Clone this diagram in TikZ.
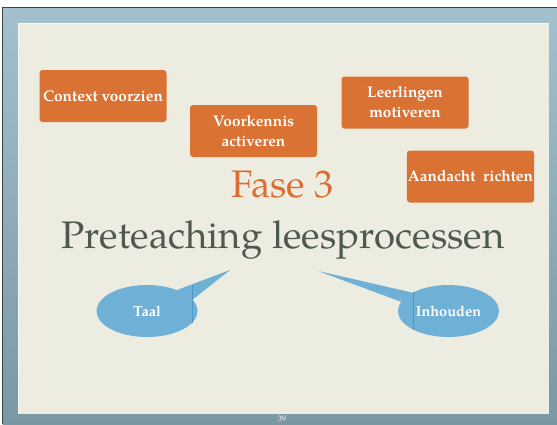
\documentclass[tikz,border=0pt]{standalone}
\usepackage{fontspec}
\setmainfont{TeX Gyre Pagella}
\usetikzlibrary{shapes.geometric,calc}
\definecolor{frameTop}{HTML}{A2C0CD}
\definecolor{frameBot}{HTML}{7A98A4}
\definecolor{cream}{HTML}{EDECE1}
\definecolor{boxor}{HTML}{DA7233}
\definecolor{titleor}{HTML}{DB6F33}
\definecolor{titlegr}{HTML}{4E5A4F}
\definecolor{bubble}{HTML}{6FB0D7}
\definecolor{bubbleline}{HTML}{4C96C8}
\begin{document}
\begin{tikzpicture}[x=1pt,y=-1pt,
  taskbox/.style={fill=boxor, rounded corners=3pt, minimum width=127pt, minimum height=52pt, inner sep=1pt, text=white, font=\fontsize{15.4}{20}\selectfont\bfseries, align=center},
  bubblenode/.style={ellipse, fill=bubble, minimum width=101pt, minimum height=52pt, inner sep=0pt, text=white, font=\fontsize{14.5}{17}\selectfont\bfseries},
  titletext/.style={font=\fontsize{38.4}{42}\selectfont, anchor=base, inner sep=0pt}]
\useasboundingbox (0,0) rectangle (557,424);
\fill[white] (0,0) rectangle (557,424);
\shade[top color=frameTop, bottom color=frameBot] (2.5,7) rectangle (557,424);
\draw[line width=0.8pt, black!75] (2.5,424) -- (2.5,7) -- (557,7);
\fill[white!60!cream] (17.8,22.8) rectangle (549.2,414.2);
\fill[cream] (18.5,23.5) rectangle (548.5,413.5);
% orange boxes
\node[taskbox] (ctx) at (103,96) {Context voorzien};
\node[taskbox] (vk) at (253.5,131) {Voorkennis\\activeren};
\node[taskbox] (ll) at (405,102.5) {Leerlingen\\motiveren};
\node[taskbox] (aa) at (470.5,176.5) {Aandacht\ \ richten};
% titles
\node[titletext, text=titleor] (fase) at (282.5,197) {Fase 3};
\node[titletext, text=titlegr] (pre) at (283,248) {Preteaching leesprocessen};
% bubbles
\node[bubblenode] (taal) at (147,311) {Taal};
\node[bubblenode] (inh) at (448.5,311) {Inhouden};
\coordinate (taaltip) at (230,270);
\coordinate (inhtip) at (318,271);
\fill[bubble] (taal.35) -- (taaltip) -- (taal.14) -- cycle;
\fill[bubble] (inh.153) -- (inhtip) -- (inh.169) -- cycle;
\draw[bubbleline, line width=0.7pt] ($(taal.center)+(45,-26)$) -- ($(taal.center)+(45,12)$);
\draw[bubbleline, line width=0.7pt] ($(inh.center)+(-35.5,-19)$) -- ($(inh.center)+(-35.5,19)$);
% page number
\node[text=white, font=\fontsize{8}{9}\selectfont, inner sep=0pt] (pg) at (282,419) {39};
\end{tikzpicture}
\end{document}
